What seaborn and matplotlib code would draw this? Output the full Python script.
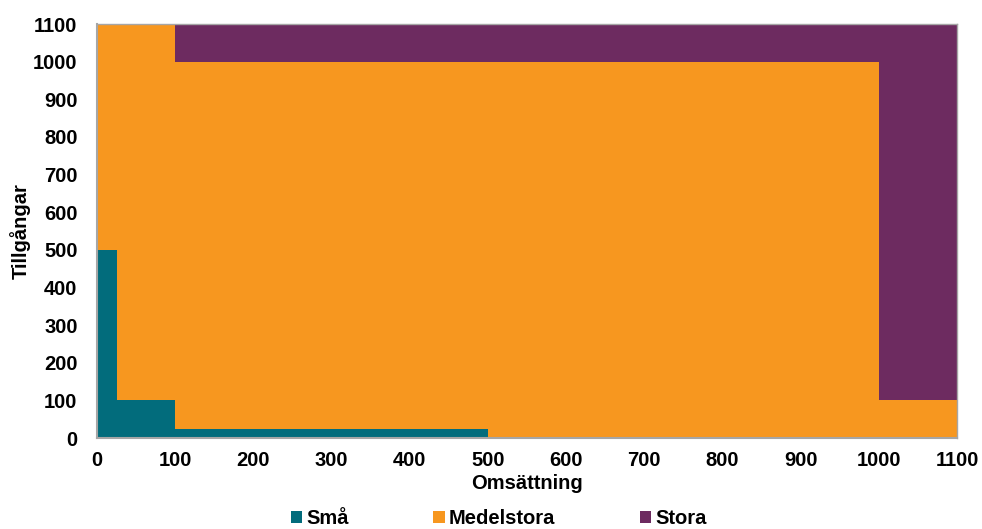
import matplotlib
matplotlib.use("Agg")
import matplotlib.pyplot as plt
import seaborn as sns
from matplotlib.patches import Patch

# Omsättning breakpoints (steps are drawn as duplicate x values)
omsattning = [0, 25, 25, 100, 100, 500, 500, 1000, 1000, 1100]
sma = [500, 500, 100, 100, 25, 25, 0, 0, 0, 0]
medelstora = [600, 600, 1000, 1000, 975, 975, 1000, 1000, 100, 100]
stora = [0, 0, 0, 0, 100, 100, 100, 100, 1000, 1000]

labels = ["Små", "Medelstora", "Stora"]
colors = ["#026c7c", "#f7971f", "#6d2b60"]
ticks = list(range(0, 1101, 100))

sns.set_style("white")
plt.rcParams["font.family"] = ["Liberation Sans", "DejaVu Sans"]
plt.rcParams["font.weight"] = "bold"
plt.rcParams["text.color"] = "black"
plt.rcParams["axes.labelcolor"] = "black"

FS = 14.5

fig = plt.figure(figsize=(9.82, 5.29), dpi=100)
ax = fig.add_axes([0.0988, 0.172, 0.8757, 0.7826])

ax.stackplot(omsattning, sma, medelstora, stora, colors=colors, linewidth=0)

ax.set_xlim(0, 1100)
ax.set_ylim(0, 1100)
ax.set_xticks(ticks)
ax.set_yticks(ticks)
ax.tick_params(axis="both", labelsize=FS, length=5, width=1, color="#a6a6a6",
               labelcolor="black", direction="out", pad=4)
ax.tick_params(axis="y", length=0, pad=14)
for lab in ax.get_xticklabels() + ax.get_yticklabels():
    lab.set_fontweight("bold")

for side in ["left", "bottom", "right", "top"]:
    ax.spines[side].set_color("#a6a6a6")
    ax.spines[side].set_linewidth(1)
ax.spines["left"].set_linewidth(1.5)
ax.spines["bottom"].set_linewidth(1.5)

ax.set_xlabel("Omsättning", fontsize=FS, fontweight="bold", labelpad=3)
ax.set_ylabel("Tillgångar", fontsize=FS, fontweight="bold", labelpad=2)

handles = [Patch(facecolor=c, edgecolor="none") for c in colors]
fig.legend(handles, labels, loc="center", bbox_to_anchor=(0.508, 0.02),
           ncol=3, frameon=False, handlelength=0.55, handleheight=0.55,
           handletextpad=0.22, columnspacing=4.2, borderpad=0.1,
           prop={"weight": "bold", "size": FS})

fig.savefig("out.png", dpi=100)
